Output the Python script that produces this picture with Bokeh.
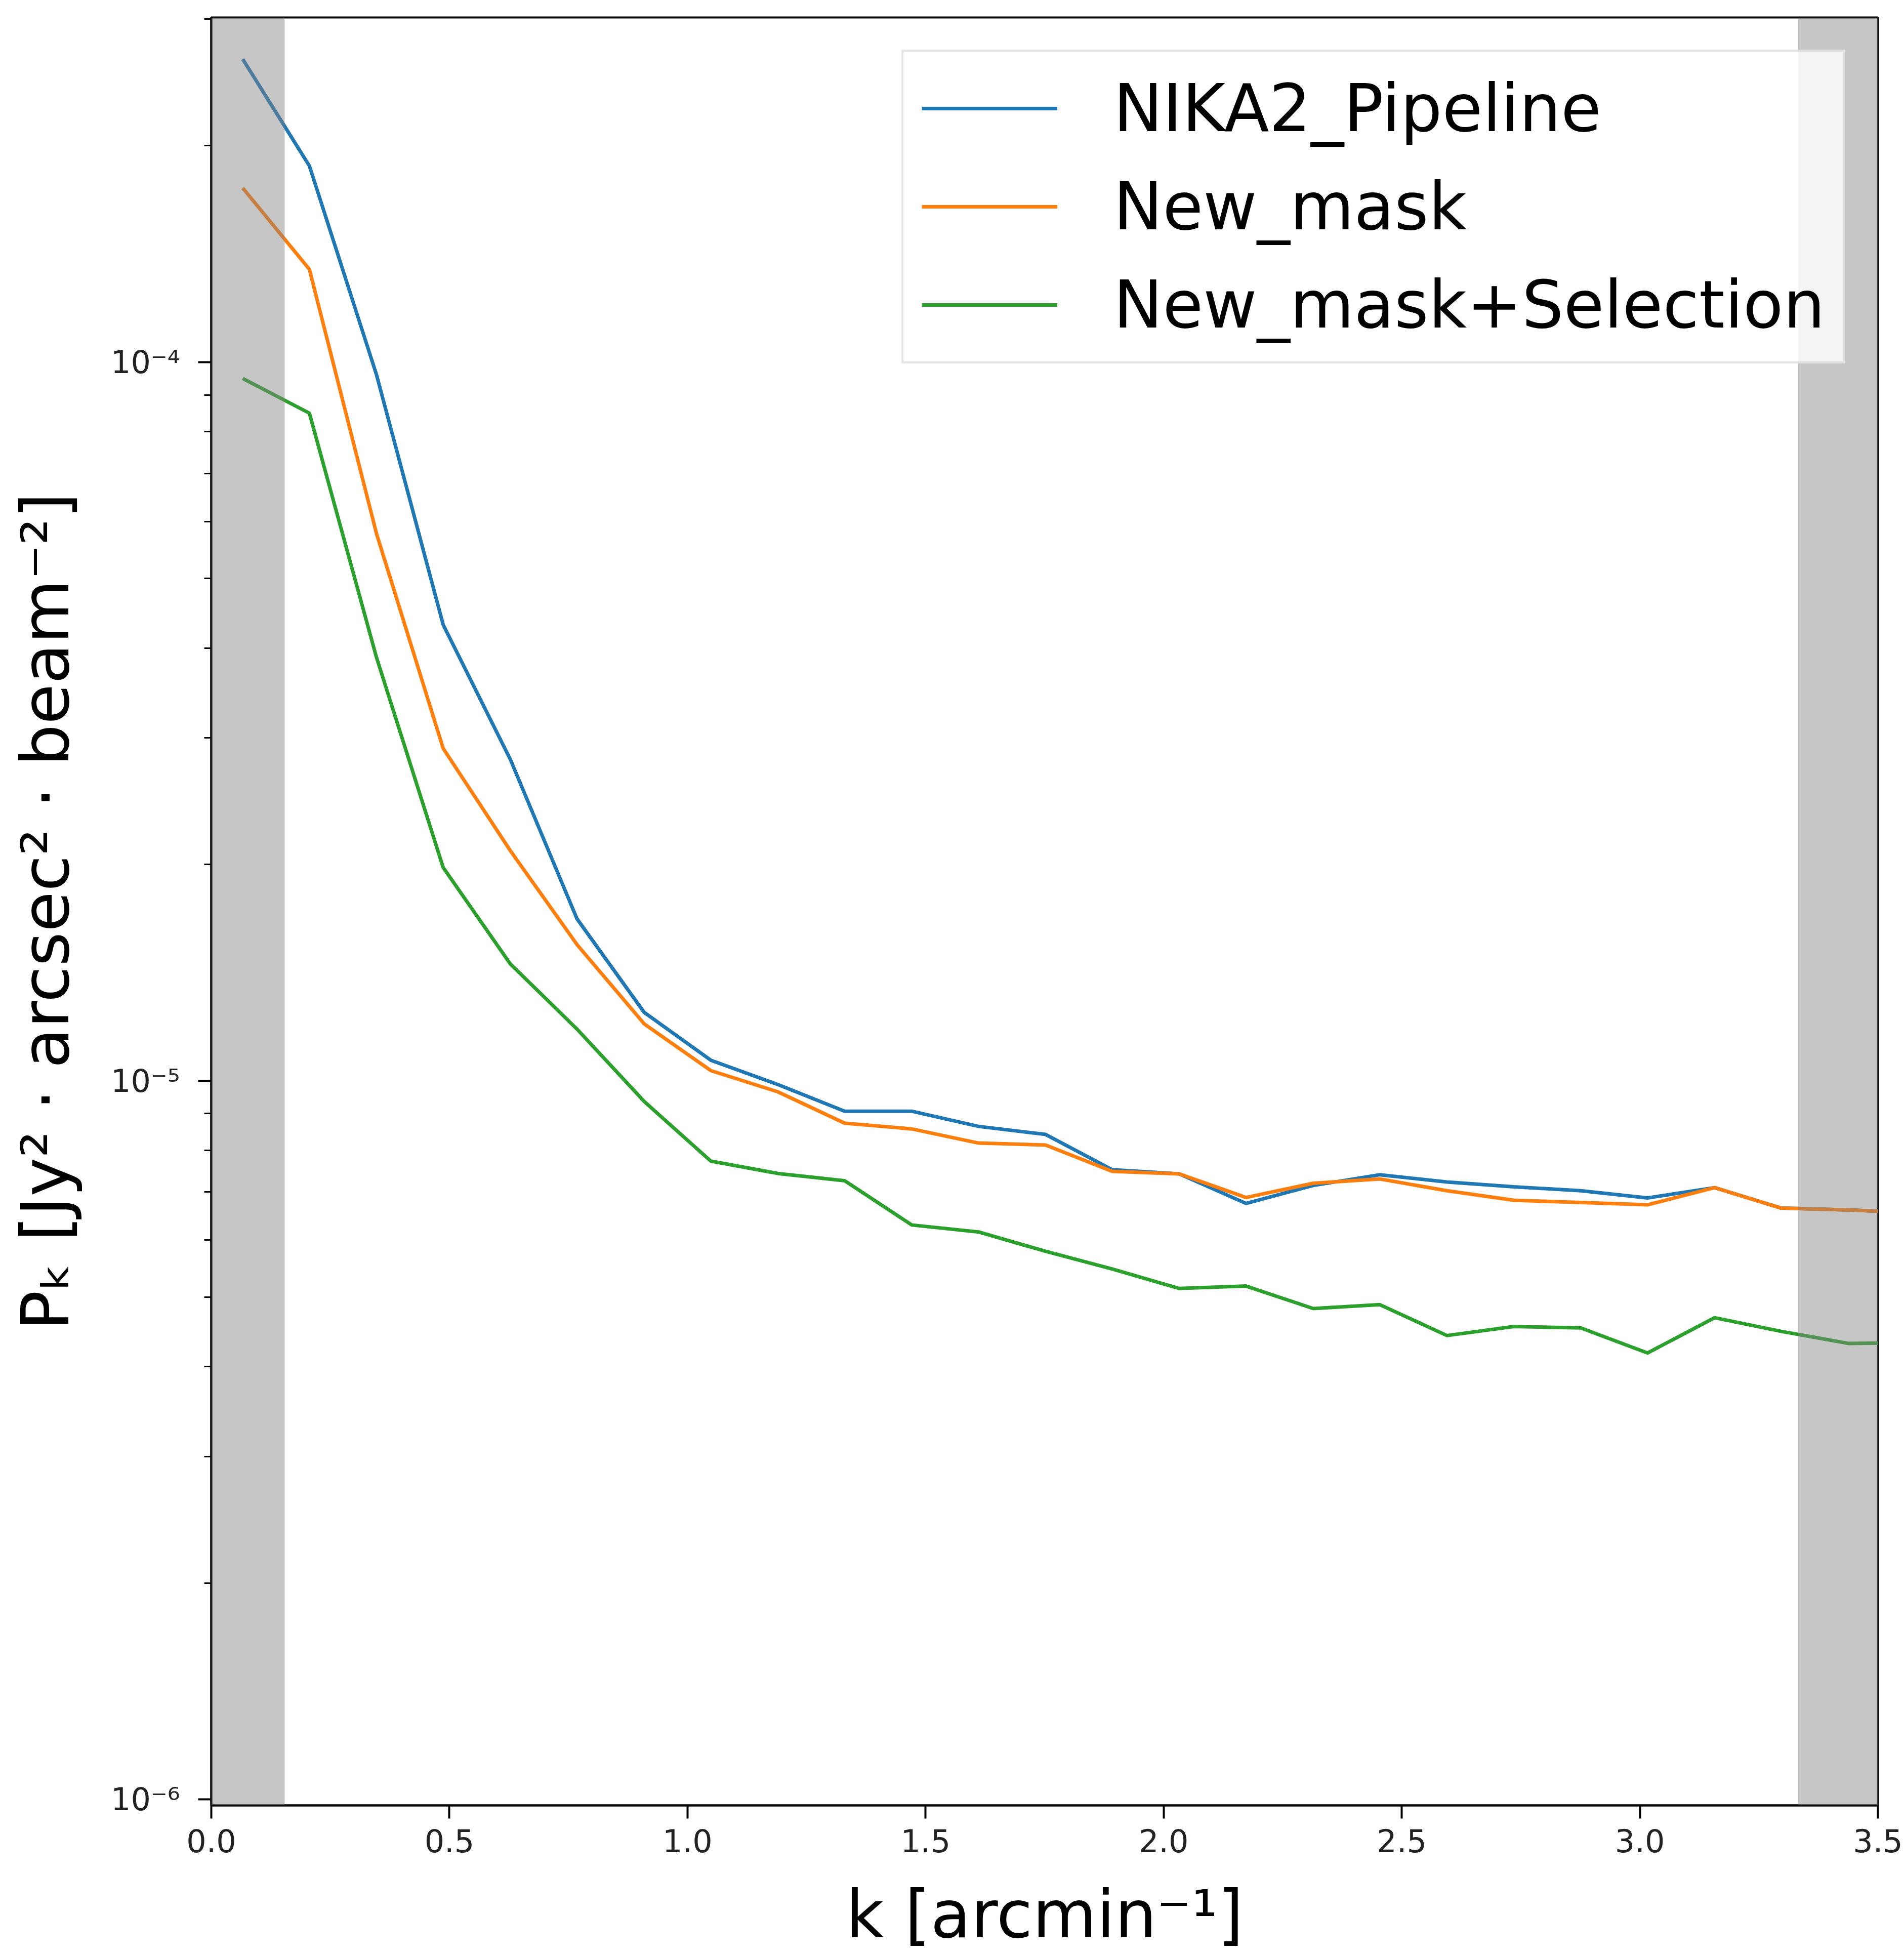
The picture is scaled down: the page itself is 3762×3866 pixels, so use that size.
from bokeh.plotting import figure
from bokeh.models import Range1d, FixedTicker, BoxAnnotation, Legend, LegendItem
from bokeh.embed import file_html
from bokeh.resources import INLINE

# ---- data ----
k = [0.066, 0.206, 0.347, 0.487, 0.628, 0.768, 0.909, 1.049, 1.190, 1.330,
     1.471, 1.611, 1.752, 1.892, 2.033, 2.173, 2.314, 2.454, 2.595, 2.735,
     2.876, 3.016, 3.157, 3.297, 3.438, 3.578]

nika2_pipeline = [2.64e-4, 1.875e-4, 9.6e-5, 4.31e-5, 2.80e-5, 1.68e-5, 1.245e-5,
                  1.068e-5, 9.88e-6, 9.07e-6, 9.07e-6, 8.64e-6, 8.42e-6, 7.52e-6,
                  7.42e-6, 6.75e-6, 7.15e-6, 7.40e-6, 7.23e-6, 7.12e-6, 7.03e-6,
                  6.87e-6, 7.10e-6, 6.65e-6, 6.61e-6, 6.55e-6]

new_mask = [1.747e-4, 1.346e-4, 5.77e-5, 2.90e-5, 2.09e-5, 1.547e-5, 1.20e-5,
            1.033e-5, 9.65e-6, 8.73e-6, 8.57e-6, 8.19e-6, 8.14e-6, 7.48e-6,
            7.42e-6, 6.88e-6, 7.20e-6, 7.30e-6, 7.03e-6, 6.82e-6, 6.77e-6,
            6.72e-6, 7.10e-6, 6.65e-6, 6.61e-6, 6.55e-6]

new_mask_selection = [9.49e-5, 8.49e-5, 3.88e-5, 1.98e-5, 1.454e-5, 1.18e-5, 9.36e-6,
                      7.73e-6, 7.43e-6, 7.26e-6, 6.30e-6, 6.16e-6, 5.79e-6, 5.47e-6,
                      5.14e-6, 5.18e-6, 4.82e-6, 4.88e-6, 4.42e-6, 4.55e-6, 4.53e-6,
                      4.18e-6, 4.68e-6, 4.48e-6, 4.31e-6, 4.32e-6]

series_names = ["NIKA2_Pipeline", "New_mask", "New_mask+Selection"]
series_colors = ["#1f77b4", "#ff7f0e", "#2ca02c"]

band_left = [0.0, 3.332]
band_right = [0.154, 3.5]

x_ticks = [0.0, 0.5, 1.0, 1.5, 2.0, 2.5, 3.0, 3.5]
x_tick_labels = ["0.0", "0.5", "1.0", "1.5", "2.0", "2.5", "3.0", "3.5"]
y_ticks = [1e-6, 1e-5, 1e-4]
y_tick_labels = ["10\u207b\u2076", "10\u207b\u2075", "10\u207b\u2074"]
y_minor = [m * d for d in (1e-6, 1e-5, 1e-4) for m in range(2, 10)]

FONT = "DejaVu Sans"

p = figure(width=3762, height=3866, title=None,
           x_range=Range1d(0, 3.5), y_range=Range1d(0.981e-6, 3.017e-4),
           y_axis_type="log", output_backend="svg", toolbar_location=None,
           min_border_left=417, min_border_right=52, min_border_top=34,
           min_border_bottom=300)

p.background_fill_color = "white"
p.border_fill_color = "white"
p.outline_line_color = "black"
p.outline_line_width = 4
p.xgrid.visible = False
p.ygrid.visible = False

renderers = []
for ys, col in zip([nika2_pipeline, new_mask, new_mask_selection], series_colors):
    renderers.append(p.line(k, ys, line_color=col, line_width=7))

for bl, br in zip(band_left, band_right):
    p.add_layout(BoxAnnotation(left=bl, right=br, fill_color="#808080",
                               fill_alpha=0.45, line_alpha=0))

legend = Legend(items=[LegendItem(label=n, renderers=[r]) for n, r in zip(series_names, renderers)],
                location="top_right", margin=64, padding=36, spacing=42,
                glyph_width=268, glyph_height=120, label_height=120,
                label_standoff=111, label_text_font=FONT, label_text_font_size="130px",
                label_text_color="black", background_fill_color="white",
                background_fill_alpha=0.8, border_line_color="#cccccc",
                border_line_width=4)
p.add_layout(legend)

# x axis
p.xaxis.ticker = FixedTicker(ticks=x_ticks)
p.xaxis.major_label_overrides = {t: l for t, l in zip(x_ticks, x_tick_labels)}
p.xaxis.axis_label = "k [arcmin\u207b\u00b9]"
p.xaxis.minor_tick_line_color = None

# y axis
p.yaxis.ticker = FixedTicker(ticks=y_ticks, minor_ticks=y_minor)
p.yaxis.major_label_overrides = {t: l for t, l in zip(y_ticks, y_tick_labels)}
p.yaxis.axis_label = "P\u2096 [Jy\u00b2 \u00b7 arcsec\u00b2 \u00b7 beam\u207b\u00b2]"
p.yaxis.minor_tick_out = 14
p.yaxis.minor_tick_in = 0
p.yaxis.minor_tick_line_width = 3
p.yaxis.minor_tick_line_color = "black"

for ax in (p.xaxis, p.yaxis):
    ax.axis_line_width = 4
    ax.axis_line_color = "black"
    ax.major_tick_out = 26
    ax.major_tick_in = 0
    ax.major_tick_line_width = 4
    ax.major_tick_line_color = "black"
    ax.major_label_text_font = FONT
    ax.major_label_text_font_size = "62px"
    ax.major_label_text_color = "#222222"
    ax.axis_label_text_font = FONT
    ax.axis_label_text_font_size = "130px"
    ax.axis_label_text_font_style = "normal"
    ax.axis_label_text_color = "black"

p.xaxis.major_label_standoff = 20
p.xaxis.axis_label_standoff = 44
p.yaxis.major_label_standoff = 36
p.yaxis.axis_label_standoff = 50

open("out.html", "w").write(file_html(p, INLINE))
